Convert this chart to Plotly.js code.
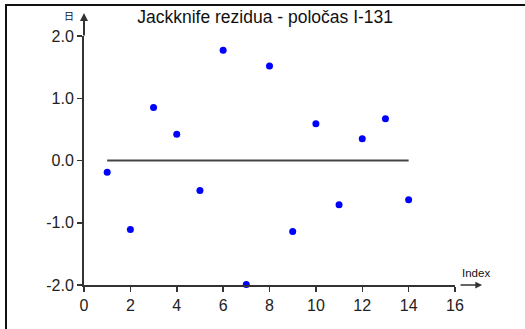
<!DOCTYPE html>
<html>
<head>
<meta charset="utf-8">
<script src="https://cdn.plot.ly/plotly-3.0.1.min.js"></script>
<style>
  html, body { margin: 0; padding: 0; background: #fff; }
  #wrap { position: relative; width: 525px; height: 329px; overflow: hidden; }
  #chart { position: absolute; left: 0; top: 0; width: 525px; height: 329px; }
  #frame { position: absolute; left: 5px; top: 4px; width: 530px; height: 340px;
           border-left: 2px solid #111; border-top: 2px solid #111; pointer-events: none; }
</style>
</head>
<body>
<div id="wrap">
  <div id="chart"></div>
  <div id="frame"></div>
</div>
<script>
// Jackknife residuals of the I-131 half-life fit
const indexValues = [1, 2, 3, 4, 5, 6, 7, 8, 9, 10, 11, 12, 13, 14];
const residuals = [-0.19, -1.11, 0.85, 0.42, -0.48, 1.77, -1.99, 1.52, -1.14, 0.59, -0.71, 0.35, 0.67, -0.63];

// zero reference line across the observed index span
const zeroLineX = [1, 14];
const zeroLineY = [0, 0];

const xTickVals = [0, 2, 4, 6, 8, 10, 12, 14, 16];
const yTickVals = [-2, -1, 0, 1, 2];
const yTickText = ['-2.0', '-1.0', '0.0', '1.0', '2.0'];

const titleText = 'Jackknife rezidua - poločas I-131';
const xLabel = 'Index';
const yLabel = '日';

const font = 'Liberation Sans, Arial, sans-serif';
const axisColor = '#333';

const traces = [
  {
    x: zeroLineX, y: zeroLineY, type: 'scatter', mode: 'lines',
    line: { color: '#444', width: 2 }, hoverinfo: 'skip'
  },
  {
    x: indexValues, y: residuals, type: 'scatter', mode: 'markers',
    marker: { color: '#0000ff', size: 7 }, cliponaxis: false
  }
];

const layout = {
  width: 525, height: 329,
  margin: { l: 84, r: 70, t: 36, b: 44 },
  paper_bgcolor: '#fff', plot_bgcolor: '#fff',
  showlegend: false,
  title: {
    text: titleText,
    font: { family: font, size: 17.5, color: '#111' },
    x: 0.505, xref: 'container', xanchor: 'center',
    y: 0.948, yref: 'container', yanchor: 'middle'
  },
  xaxis: {
    range: [0, 16], tickvals: xTickVals,
    showgrid: false, zeroline: false,
    showline: true, linecolor: axisColor, linewidth: 2,
    ticks: 'outside', ticklen: 5, tickwidth: 1.5, tickcolor: axisColor,
    tickfont: { family: font, size: 16, color: '#222' }
  },
  yaxis: {
    range: [-2, 2], tickvals: yTickVals, ticktext: yTickText,
    showgrid: false, zeroline: false,
    showline: true, linecolor: axisColor, linewidth: 2,
    ticks: 'outside', ticklen: 5, tickwidth: 1.5, tickcolor: axisColor,
    tickfont: { family: font, size: 16, color: '#222' }
  },
  annotations: [
    // vertical axis continues upward into an arrow
    {
      xref: 'paper', yref: 'paper', x: 0, y: 1.092, ax: 0, ay: 24,
      text: '', showarrow: true, arrowhead: 2, arrowsize: 0.8, arrowwidth: 2,
      arrowcolor: axisColor, standoff: 0
    },
    // detached arrow after the last horizontal tick
    {
      xref: 'paper', yref: 'paper', x: 1.073, y: 0, ax: -23, ay: 0,
      text: '', showarrow: true, arrowhead: 2, arrowsize: 0.9, arrowwidth: 1.5,
      arrowcolor: axisColor, standoff: 0
    },
    {
      xref: 'paper', yref: 'paper', x: 1.0566, y: 0.05,
      text: xLabel, showarrow: false, xanchor: 'center', yanchor: 'middle',
      font: { family: font, size: 11.5, color: '#111' }
    },
    {
      xref: 'paper', yref: 'paper', x: -0.0404, y: 1.084,
      text: yLabel, showarrow: false, xanchor: 'center', yanchor: 'middle',
      font: { family: 'Noto Sans CJK SC, sans-serif', size: 10, color: '#111' }
    }
  ]
};

Plotly.newPlot('chart', traces, layout, { displayModeBar: false, staticPlot: true });
</script>
</body>
</html>
